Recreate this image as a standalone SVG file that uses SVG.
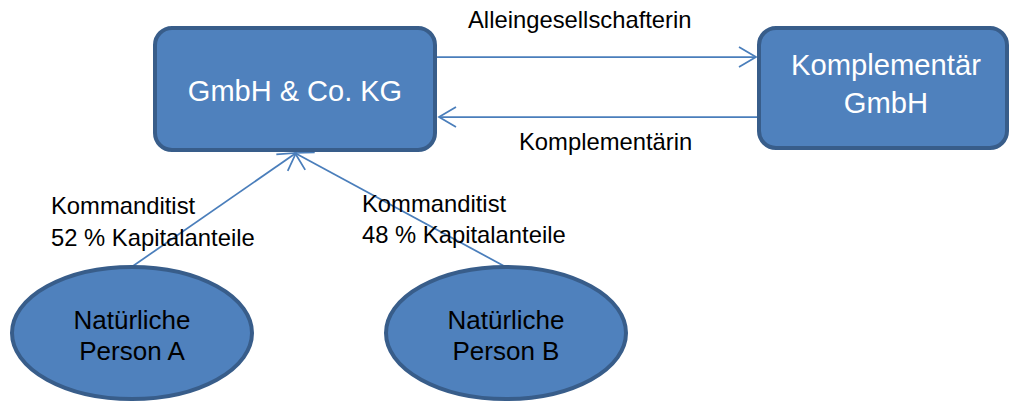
<svg xmlns="http://www.w3.org/2000/svg" width="1011" height="402" viewBox="0 0 1011 402">
<style>
.node{fill:#4F81BD;stroke:#385D8A;stroke-width:4}
.wt{font-family:"Liberation Sans",Arial,sans-serif;fill:#FFFFFF;text-anchor:middle}
.bt{font-family:"Liberation Sans",Arial,sans-serif;fill:#000000;text-anchor:middle}
.lbl{font-family:"Liberation Sans",Arial,sans-serif;fill:#000000;font-size:23.8px}
.conn{stroke:#4A7EBB;stroke-width:1.75;fill:none}
</style>
<defs>
<marker id="arr" markerUnits="userSpaceOnUse" markerWidth="40" markerHeight="40" viewBox="-20 -20 40 40" refX="0" refY="0" orient="auto">
<path d="M-17,-10 L0,0 L-17,10" fill="none" stroke="#4A7EBB" stroke-width="1.75"/>
</marker>
</defs>
<rect width="1011" height="402" fill="#FFFFFF"/>
<g id="connectors">
<line class="conn" x1="437" y1="57" x2="756" y2="57" marker-end="url(#arr)"/>
<line class="conn" x1="757" y1="117" x2="439" y2="117" marker-end="url(#arr)"/>
<line class="conn" x1="133" y1="266" x2="296" y2="153" marker-end="url(#arr)"/>
<line class="conn" x1="504" y1="266" x2="295" y2="153" marker-end="url(#arr)"/>
<text class="lbl" x="468" y="28">Alleingesellschafterin</text>
<text class="lbl" x="519" y="150">Komplementärin</text>
<text class="lbl" x="51" y="214">Kommanditist</text>
<text class="lbl" x="51" y="246">52 % Kapitalanteile</text>
<text class="lbl" x="362" y="212">Kommanditist</text>
<text class="lbl" x="362" y="243">48 % Kapitalanteile</text>
</g>
<g id="gmbh-co-kg">
<rect class="node" x="155" y="28" width="280" height="122" rx="17"/>
<text class="wt" x="295" y="101" font-size="29">GmbH &amp; Co. KG</text>
</g>
<g id="komplementaer-gmbh">
<rect class="node" x="759" y="28" width="248" height="120" rx="17"/>
<text class="wt" x="886" y="75" font-size="29.2">Komplementär</text>
<text class="wt" x="886" y="113" font-size="29.2">GmbH</text>
</g>
<g id="person-a">
<ellipse class="node" cx="132" cy="333" rx="120" ry="66"/>
<text class="bt" x="132" y="329" font-size="26">Natürliche</text>
<text class="bt" x="132" y="360" font-size="26">Person A</text>
</g>
<g id="person-b">
<ellipse class="node" cx="506" cy="333" rx="120" ry="66"/>
<text class="bt" x="506" y="329" font-size="26">Natürliche</text>
<text class="bt" x="506" y="360" font-size="26">Person B</text>
</g>
</svg>
